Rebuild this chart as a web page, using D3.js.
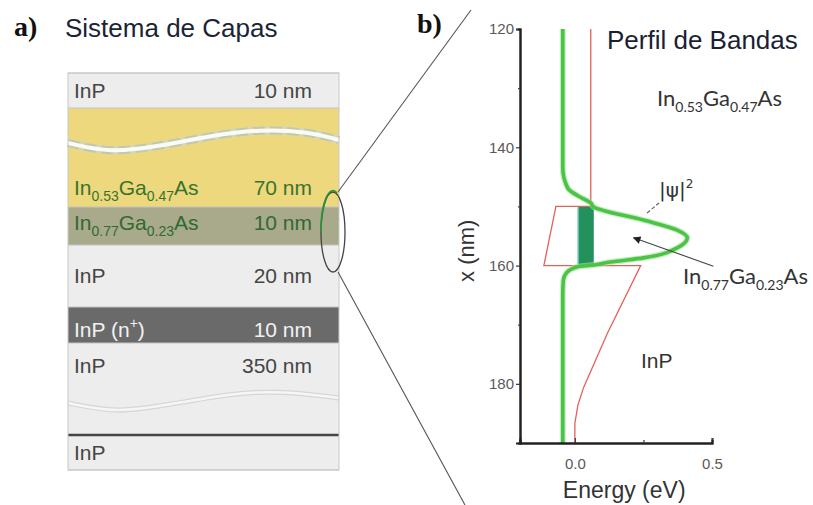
<!DOCTYPE html>
<html>
<head>
<meta charset="utf-8">
<script src="https://cdn.jsdelivr.net/npm/d3@7"></script>
<style>
body { margin: 0; background: #fff; }
text { font-family: "Liberation Sans", Arial, sans-serif; }
</style>
</head>
<body>
<svg id="fig" width="813" height="505"></svg>
<script>
// ---- data: layer system (top to bottom)
var layerNames = ["InP", "In0.53Ga0.47As", "In0.77Ga0.23As", "InP", "InP (n+)", "InP", "InP"];
var layerThick = ["10 nm", "70 nm", "10 nm", "20 nm", "10 nm", "350 nm", ""];
var layerKind = ["InP", "InGaAs53", "InGaAs77", "InP", "InPn", "InP", "InP"];

// ---- data: band profile (energy in eV, position x in nm)
var bandE = [0.058, 0.058, -0.069, -0.113, 0.24, 0.12, 0.032, 0.011, 0.0, 0.0];
var bandX = [120, 150, 150, 160, 160, 171.3, 180.6, 183.6, 186.7, 190];
var psiE = [-0.044, -0.044, -0.026, 0.011, 0.058, 0.069, 0.25, 0.373, 0.41, 0.373, 0.25, 0.13, 0.069, 0.011, -0.03, -0.042, -0.044, -0.044];
var psiX = [120, 143.5, 146.9, 148.2, 149.4, 150.1, 152.3, 154.0, 155.3, 157.0, 158.7, 159.4, 159.9, 160.2, 161.2, 162.5, 165, 190];
var wellX = [150, 160];      // nm
var wellE = [0.011, 0.069];  // eV, filled ground state bar
var yTicks = [120, 140, 160, 180];
var yMinor = [130, 150, 170];
var xTicks = [0.0, 0.5];
var xMinor = [0.25];

// ---- layout / styles
var layerFill = { InP: "#ededed", InGaAs53: "#eed87e", InGaAs77: "#a9a98b", InPn: "#6a6a6a" };
var layerText = { InP: "#454545", InGaAs53: "#36742e", InGaAs77: "#2f6a33", InPn: "#f2f2f2" };
var rowWeights = [35, 99, 38, 62, 36, 92, 35];
var textOffset = [25, 87, 23, 38, 30, 30, 25];
var stack = { x0: 68, x1: 339, y0: 73, y1: 470 };

var svg = d3.select('#fig');

// rich text: "0.53" style numbers become subscripts, "+" a superscript
function rich(sel, str, big, small) {
  var parts = str.split(/(\d\.\d+|\+)/).filter(function (s) { return s.length; });
  var shift = 0;
  parts.forEach(function (p) {
    var t = sel.append('tspan').text(p);
    var want = 0, size = big;
    if (/^\d\.\d+$/.test(p)) { want = Math.round(big * 0.28); size = small; }
    else if (p === '+') { want = -Math.round(big * 0.45); size = small; }
    t.attr('font-size', size).attr('dy', want - shift);
    shift = want;
  });
}

// titles
svg.append('text').attr('x', 14).attr('y', 36)
  .style('font-family', '"Liberation Serif", "Times New Roman", serif')
  .attr('font-weight', 'bold').attr('font-size', 28).attr('fill', '#111').text('a)');
svg.append('text').attr('x', 417).attr('y', 33)
  .style('font-family', '"Liberation Serif", "Times New Roman", serif')
  .attr('font-weight', 'bold').attr('font-size', 28).attr('fill', '#111').text('b)');
svg.append('text').attr('x', 65).attr('y', 37).attr('font-size', 26)
  .attr('fill', '#1a2436').text('Sistema de Capas');

// ---- layer stack
var yRow = d3.scaleLinear().domain([0, d3.sum(rowWeights)]).range([stack.y0, stack.y1]);
var cum = [0].concat(Array.from(d3.cumsum(rowWeights)));

var layers = svg.append('g').attr('class', 'layers');
layerNames.forEach(function (name, i) {
  var top = yRow(cum[i]), bot = yRow(cum[i + 1]);
  layers.append('rect')
    .attr('x', stack.x0).attr('y', top)
    .attr('width', stack.x1 - stack.x0).attr('height', bot - top)
    .attr('fill', layerFill[layerKind[i]]);
});

// wavy "cut" marks
var waveLine = d3.line().curve(d3.curveBasis);
var cut1 = [[68, 143], [110, 153], [160, 146], [210, 136], [260, 129], [310, 132], [339, 140]];
var cut2 = [[68, 403], [117, 413], [167, 405], [233, 393], [283, 391], [339, 398]];
layers.append('path').attr('d', waveLine(cut1)).attr('fill', 'none')
  .attr('stroke', '#d3d6bd').attr('stroke-width', 8);
layers.append('path').attr('d', waveLine(cut1)).attr('fill', 'none')
  .attr('stroke', '#a8bba0').attr('stroke-width', 8).attr('stroke-dasharray', '12,5')
  .attr('opacity', 0.45);
layers.append('path').attr('d', waveLine(cut1)).attr('fill', 'none')
  .attr('stroke', '#fbfbf6').attr('stroke-width', 4);
layers.append('path').attr('d', waveLine(cut2)).attr('fill', 'none')
  .attr('stroke', '#d6d6d6').attr('stroke-width', 5);
layers.append('path').attr('d', waveLine(cut2)).attr('fill', 'none')
  .attr('stroke', '#f6f6f6').attr('stroke-width', 2.5);

// borders between layers
cum.forEach(function (c, i) {
  var yy = yRow(c);
  layers.append('line')
    .attr('x1', stack.x0).attr('x2', stack.x1).attr('y1', yy).attr('y2', yy)
    .attr('stroke', i === 6 ? '#444' : '#c4c4c4')
    .attr('stroke-width', i === 6 ? 2.5 : 1);
});
layers.append('rect')
  .attr('x', stack.x0).attr('y', stack.y0)
  .attr('width', stack.x1 - stack.x0).attr('height', stack.y1 - stack.y0)
  .attr('fill', 'none').attr('stroke', '#c8c8c8').attr('stroke-width', 1);

// layer labels
layerNames.forEach(function (name, i) {
  var base = yRow(cum[i]) + textOffset[i];
  var col = layerText[layerKind[i]];
  var t = layers.append('text').attr('x', 74).attr('y', base).attr('fill', col);
  rich(t, name, 21, 14);
  if (layerThick[i]) {
    layers.append('text').attr('x', 312).attr('y', base)
      .attr('text-anchor', 'end').attr('font-size', 21).attr('fill', col)
      .text(layerThick[i]);
  }
});

// magnifier ellipse and zoom lines
svg.append('ellipse').attr('cx', 333).attr('cy', 232).attr('rx', 12).attr('ry', 40)
  .attr('fill', 'none').attr('stroke', '#444').attr('stroke-width', 1.3);
svg.append('path').attr('d', 'M337,193 A12,40 0 0 0 321,232')
  .attr('fill', 'none').attr('stroke', '#2f8f3c').attr('stroke-width', 1.8);
svg.append('line').attr('x1', 338).attr('y1', 192).attr('x2', 471).attr('y2', 10)
  .attr('stroke', '#555').attr('stroke-width', 1.1);
svg.append('line').attr('x1', 338).attr('y1', 272).attr('x2', 465).attr('y2', 505)
  .attr('stroke', '#555').attr('stroke-width', 1.1);

// ---- band profile plot
var x = d3.scaleLinear().domain([-0.2, 0.5]).range([520, 712]);
var y = d3.scaleLinear().domain([120, 190]).range([29, 443]);
var plot = svg.append('g').attr('class', 'plot');

// ground state bar in the well
plot.append('rect')
  .attr('x', x(wellE[0])).attr('y', y(wellX[0]))
  .attr('width', x(wellE[1]) - x(wellE[0])).attr('height', y(wellX[1]) - y(wellX[0]))
  .attr('fill', '#23915c');
plot.append('line')
  .attr('x1', x(wellE[0])).attr('x2', x(wellE[0])).attr('y1', y(wellX[0])).attr('y2', y(wellX[1]))
  .attr('stroke', '#8fe0d0').attr('stroke-width', 1.5);

// conduction band
var band = bandE.map(function (e, i) { return [e, bandX[i]]; });
plot.append('path')
  .attr('d', d3.line().x(function (d) { return x(d[0]); }).y(function (d) { return y(d[1]); })(band))
  .attr('fill', 'none').attr('stroke', '#e2625a').attr('stroke-width', 1.3);

// |psi|^2
var psi = psiE.map(function (e, i) { return [e, psiX[i]]; });
var psiLine = d3.line().curve(d3.curveMonotoneY)
  .x(function (d) { return x(d[0]); }).y(function (d) { return y(d[1]); });
plot.append('path').attr('d', psiLine(psi)).attr('fill', 'none')
  .attr('stroke', '#9fe39a').attr('stroke-width', 6).attr('opacity', 0.6);
plot.append('path').attr('d', psiLine(psi)).attr('fill', 'none')
  .attr('stroke', '#4cc246').attr('stroke-width', 3.6);

// axes
plot.append('g').attr('transform', 'translate(520,0)')
  .call(d3.axisLeft(y).tickValues(yTicks).tickSize(4).tickPadding(2).tickFormat(d3.format('d')));
plot.append('g').attr('transform', 'translate(520,0)')
  .call(d3.axisLeft(y).tickValues(yMinor).tickSize(2).tickFormat(''));
var xAxis = plot.append('g').attr('transform', 'translate(0,443)')
  .call(d3.axisBottom(x).tickValues(xTicks).tickSize(-5).tickPadding(12).tickFormat(d3.format('.1f')));
plot.append('g').attr('transform', 'translate(0,443)')
  .call(d3.axisBottom(x).tickValues(xMinor).tickSize(-3).tickFormat(''));
plot.selectAll('.domain').attr('stroke', '#222').attr('stroke-width', 2);
plot.selectAll('.tick line').attr('stroke', '#444').attr('stroke-width', 1.3);
plot.selectAll('.tick text').attr('font-size', 15).attr('fill', '#5a5a5a')
  .style('font-family', '"Liberation Sans", Arial, sans-serif');
xAxis.selectAll('.tick text').attr('dy', '0.9em');

plot.append('text').attr('transform', 'translate(474,' + y(157.5) + ') rotate(-90)')
  .attr('text-anchor', 'middle').attr('font-size', 22).attr('fill', '#333').text('x (nm)');
plot.append('text').attr('x', x(0.18)).attr('y', 498)
  .attr('text-anchor', 'middle').attr('font-size', 23).attr('fill', '#333').text('Energy (eV)');

// annotations
plot.append('text').attr('x', 607).attr('y', 49).attr('font-size', 26)
  .attr('fill', '#1a1f33').text('Perfil de Bandas');
var t1 = plot.append('text').attr('x', 657).attr('y', 106).attr('fill', '#333')
  .style('font-family', 'Lato, "Open Sans", sans-serif');
rich(t1, 'In0.53Ga0.47As', 22, 14);
var t2 = plot.append('text').attr('x', 683).attr('y', 284).attr('fill', '#333')
  .style('font-family', 'Lato, "Open Sans", sans-serif');
rich(t2, 'In0.77Ga0.23As', 22, 14);
plot.append('text').attr('x', 641).attr('y', 368).attr('font-size', 21)
  .attr('fill', '#333').text('InP');

var psiLab = plot.append('text').attr('x', 659).attr('y', 197).attr('fill', '#333')
  .style('font-family', '"DejaVu Sans", sans-serif');
psiLab.append('tspan').attr('font-size', 20).text('|ψ|');
psiLab.append('tspan').attr('font-size', 12).attr('dy', -9).text('2');
plot.append('line').attr('x1', 647).attr('y1', 213).attr('x2', 659).attr('y2', 203)
  .attr('stroke', '#666').attr('stroke-width', 1.2).attr('stroke-dasharray', '4,2');

// arrow to the InGaAs well
svg.append('defs').append('marker')
  .attr('id', 'head').attr('viewBox', '0 0 10 10').attr('refX', 9).attr('refY', 5)
  .attr('markerWidth', 9).attr('markerHeight', 7).attr('orient', 'auto')
  .append('path').attr('d', 'M0,0 L10,5 L0,10 z').attr('fill', '#222');
plot.append('line')
  .attr('x1', x(0.505)).attr('y1', y(160.1))
  .attr('x2', x(0.214)).attr('y2', y(155.3))
  .attr('stroke', '#444').attr('stroke-width', 1.1)
  .attr('marker-end', 'url(#head)');
</script>
</body>
</html>
